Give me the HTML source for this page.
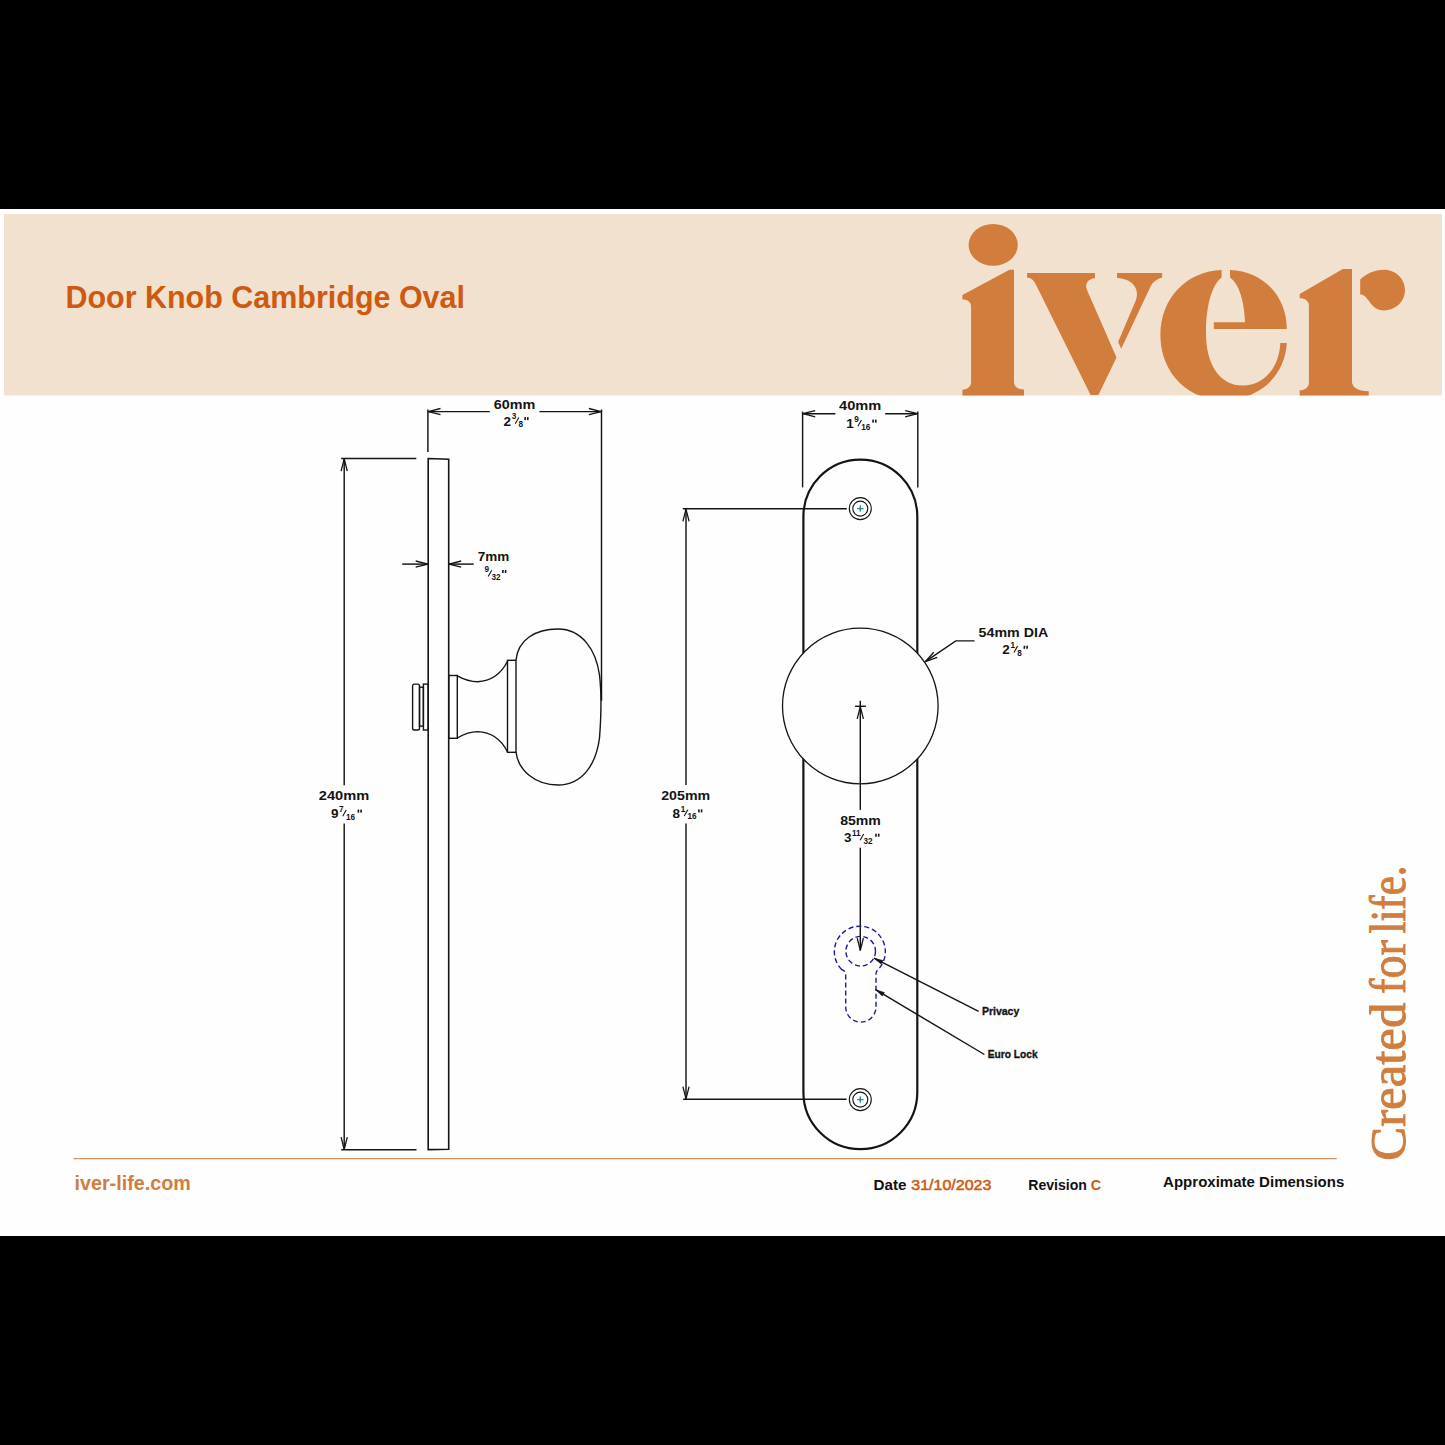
<!DOCTYPE html>
<html><head><meta charset="utf-8">
<style>
html,body{margin:0;padding:0;background:#000;}
body{width:1445px;height:1445px;position:relative;overflow:hidden;font-family:"Liberation Sans",sans-serif;}
#page{position:absolute;left:0;top:209px;width:1445px;height:1027px;background:#fefefe;}
svg{position:absolute;left:0;top:0;}
</style></head><body>
<div id="page"></div>
<svg width="1445" height="1445" viewBox="0 0 1445 1445">
<defs>
<clipPath id="bn"><rect x="4" y="214" width="1438" height="181.5"/></clipPath>
</defs>

<rect x="4" y="214" width="1438" height="181.5" fill="#f3e1cf"/>
<text x="65.40" y="307.60" font-family="Liberation Sans" font-weight="bold" font-size="30.5" fill="#ce5a12" textLength="399.60" lengthAdjust="spacingAndGlyphs" >Door Knob Cambridge Oval</text>
<g fill="#d07d3d" clip-path="url(#bn)">
<ellipse cx="993.2" cy="244.9" rx="24.6" ry="20.9"/>
<path d="M1009.5,269.8 L1014,269.8 L1014,382 C1014,387 1018,389.5 1024,389.5 L1024,400 L962.4,400 L962.4,389.7 C968,389.7 971.1,386 971.1,382 L971.1,307 C971.1,302 968,299.5 962.4,299.5 L962.4,295 Z"/>
<path d="M1027.1,273 L1095,273 L1095,278.2 C1088,278.5 1084.5,284 1087,290 L1116.5,357.6 L1098.4,395 L1090.6,395 L1035.6,283.9 C1033,279 1030,277.8 1027.1,277.5 Z"/>
<path d="M1117,273 L1162.2,273 L1162.2,277.6 C1157,279 1153,282 1150.8,286 L1121.2,348.8 L1118.1,342 L1136,300 C1139,292 1136,279 1117,278 Z"/>
<path d="M1221.6,270 C1187,271 1160.4,298 1160.4,335 C1160.4,372 1187,400 1223.6,400 C1258,400 1285,377 1286.8,343 L1280.3,343 C1279,370 1262,385.6 1243,385.6 C1220,385.6 1206,365 1206,333 C1206,305 1212,285 1221.6,277.6 Z"/>
<path d="M1230,270 C1262,271 1286.8,295 1286.8,329 L1213.8,329 L1213.8,322.3 L1245,322.3 C1244,300 1239,284 1230,277.6 Z"/>
<path d="M1342.8,268.9 L1352,268.9 L1352,382 C1352,387 1358,391.3 1368.7,391.3 L1368.7,400 L1299.7,400 L1299.7,390.3 C1305,390.3 1308.9,387 1308.9,383 L1308.9,305.5 C1308.9,301 1305,298.3 1299.7,298.3 L1299.7,293.9 Z"/>
<path d="M1360.2,279.4 C1366,274 1374,269.7 1384,269.7 C1396,269.7 1405,279 1405,290 C1405,302 1395,310.4 1384,310.4 C1377,310.4 1373,307 1369,301 C1366,297 1364,294.4 1360.2,294.4 Z"/>
</g>
<path d="M428.2,1149.6 L428.2,458.5 L448.7,459.3 L448.7,1149.2 Z" fill="none" stroke="#141414" stroke-width="1.6"/>
<line x1="427.90" y1="409.50" x2="427.90" y2="451.90" stroke="#141414" stroke-width="1.45" />
<line x1="601.50" y1="409.50" x2="601.50" y2="700.70" stroke="#141414" stroke-width="1.45" />
<line x1="427.90" y1="411.60" x2="489.80" y2="411.60" stroke="#141414" stroke-width="1.45" />
<line x1="539.40" y1="411.60" x2="601.50" y2="411.60" stroke="#141414" stroke-width="1.45" />
<path d="M440.50,408.50 L428.20,411.60 L440.50,414.70" fill="none" stroke="#141414" stroke-width="1.3" stroke-linejoin="miter"/>
<path d="M588.90,414.70 L601.20,411.60 L588.90,408.50" fill="none" stroke="#141414" stroke-width="1.3" stroke-linejoin="miter"/>
<text x="493.70" y="408.50" font-family="Liberation Sans" font-weight="bold" font-size="13.5" fill="#141414" textLength="41.50" lengthAdjust="spacingAndGlyphs" >60mm</text>
<text x="503.60" y="425.70" font-family="Liberation Sans" font-weight="bold" font-size="13.5" fill="#141414" >2</text>
<text x="511.71" y="419.40" font-family="Liberation Sans" font-weight="bold" font-size="8.2" fill="#141414" >3</text>
<line x1="515.27" y1="423.70" x2="518.87" y2="417.40" stroke="#141414" stroke-width="1.1"/>
<text x="518.57" y="427.00" font-family="Liberation Sans" font-weight="bold" font-size="8.2" fill="#141414" >8</text>
<path d="M525.20,417.10 L525.00,420.10 M527.90,417.10 L527.70,420.10" stroke="#141414" stroke-width="1.6" fill="none"/>
<line x1="341.20" y1="458.50" x2="416.30" y2="458.50" stroke="#141414" stroke-width="1.45" />
<line x1="341.30" y1="1149.80" x2="416.50" y2="1149.80" stroke="#141414" stroke-width="1.45" />
<line x1="344.20" y1="458.50" x2="344.20" y2="785.30" stroke="#141414" stroke-width="1.45" />
<line x1="344.20" y1="823.50" x2="344.20" y2="1149.80" stroke="#141414" stroke-width="1.45" />
<path d="M347.30,471.10 L344.20,458.80 L341.10,471.10" fill="none" stroke="#141414" stroke-width="1.3" stroke-linejoin="miter"/>
<path d="M341.10,1137.20 L344.20,1149.50 L347.30,1137.20" fill="none" stroke="#141414" stroke-width="1.3" stroke-linejoin="miter"/>
<text x="318.80" y="800.20" font-family="Liberation Sans" font-weight="bold" font-size="13.5" fill="#141414" textLength="50.40" lengthAdjust="spacingAndGlyphs" >240mm</text>
<text x="331.00" y="818.20" font-family="Liberation Sans" font-weight="bold" font-size="13.5" fill="#141414" >9</text>
<text x="339.11" y="811.90" font-family="Liberation Sans" font-weight="bold" font-size="8.2" fill="#141414" >7</text>
<line x1="342.67" y1="816.20" x2="346.27" y2="809.90" stroke="#141414" stroke-width="1.1"/>
<text x="345.97" y="819.50" font-family="Liberation Sans" font-weight="bold" font-size="8.2" fill="#141414" >16</text>
<path d="M358.50,809.60 L358.30,812.60 M361.20,809.60 L361.00,812.60" stroke="#141414" stroke-width="1.6" fill="none"/>
<line x1="402.20" y1="564.10" x2="428.00" y2="564.10" stroke="#141414" stroke-width="1.45" />
<line x1="448.90" y1="564.10" x2="473.70" y2="564.10" stroke="#141414" stroke-width="1.45" />
<path d="M415.70,567.20 L428.00,564.10 L415.70,561.00" fill="none" stroke="#141414" stroke-width="1.3" stroke-linejoin="miter"/>
<path d="M461.20,561.00 L448.90,564.10 L461.20,567.20" fill="none" stroke="#141414" stroke-width="1.3" stroke-linejoin="miter"/>
<text x="477.70" y="560.80" font-family="Liberation Sans" font-weight="bold" font-size="13.5" fill="#141414" textLength="31.50" lengthAdjust="spacingAndGlyphs" >7mm</text>
<text x="484.60" y="572.30" font-family="Liberation Sans" font-weight="bold" font-size="8.2" fill="#141414" >9</text>
<line x1="488.16" y1="576.60" x2="491.76" y2="570.30" stroke="#141414" stroke-width="1.1"/>
<text x="491.46" y="579.90" font-family="Liberation Sans" font-weight="bold" font-size="8.2" fill="#141414" >32</text>
<path d="M503.00,570.00 L502.80,573.00 M505.70,570.00 L505.50,573.00" stroke="#141414" stroke-width="1.6" fill="none"/>
<rect x="412.6" y="684.1" width="6.9" height="45.9" rx="1.8" fill="none" stroke="#141414" stroke-width="1.4"/>
<rect x="419.5" y="687.2" width="3.9" height="38.9" fill="none" stroke="#141414" stroke-width="1.4"/>
<rect x="423.4" y="684.1" width="4.8" height="45.9" fill="none" stroke="#141414" stroke-width="1.4"/>
<rect x="448.7" y="675.5" width="8.6" height="62.8" fill="none" stroke="#141414" stroke-width="1.4"/>
<path d="M457.3,675.8 C465,680 470,681.7 477.5,681.7 C492,681 502,672 507.4,661.5 M457.3,738 C465,733.5 470,731.6 477.5,731.6 C492,732 502,741 507.4,751.8" fill="none" stroke="#141414" stroke-width="1.4"/>
<rect x="507.5" y="660.3" width="8.5" height="92" fill="none" stroke="#141414" stroke-width="1.4"/>
<path d="M516,660 C518,640 535,629 558,629 C582,629 596,650 599.5,675 C601.5,692 601.5,712 599.5,738 C596,765 582,785 558,785 C535,785 518,770 516,752" fill="none" stroke="#141414" stroke-width="1.4"/>
<path d="M803.4,516.5 A56.95,56.95 0 0 1 917.3,516.5 L917.3,1092.2 A56.95,56.95 0 0 1 803.4,1092.2 Z" fill="none" stroke="#141414" stroke-width="2.2"/>
<circle cx="860.3" cy="508.6" r="11" fill="none" stroke="#141414" stroke-width="1.1"/>
<circle cx="860.3" cy="508.6" r="7.5" fill="none" stroke="#141414" stroke-width="1.1"/>
<path d="M857.2,508.6 L863.5,508.6 M860.3,505.6 L860.3,511.6" stroke="#1a8a8a" stroke-width="1.4"/>
<circle cx="860.3" cy="1099.6" r="11" fill="none" stroke="#141414" stroke-width="1.1"/>
<circle cx="860.3" cy="1099.6" r="7.5" fill="none" stroke="#141414" stroke-width="1.1"/>
<path d="M857.2,1099.6 L863.5,1099.6 M860.3,1096.6 L860.3,1102.6" stroke="#1a8a8a" stroke-width="1.4"/>
<line x1="802.60" y1="411.60" x2="802.60" y2="487.40" stroke="#141414" stroke-width="1.45" />
<line x1="917.80" y1="411.60" x2="917.80" y2="487.40" stroke="#141414" stroke-width="1.45" />
<line x1="802.60" y1="413.70" x2="835.40" y2="413.70" stroke="#141414" stroke-width="1.45" />
<line x1="885.20" y1="413.70" x2="917.80" y2="413.70" stroke="#141414" stroke-width="1.45" />
<path d="M815.20,410.60 L802.90,413.70 L815.20,416.80" fill="none" stroke="#141414" stroke-width="1.3" stroke-linejoin="miter"/>
<path d="M905.20,416.80 L917.50,413.70 L905.20,410.60" fill="none" stroke="#141414" stroke-width="1.3" stroke-linejoin="miter"/>
<text x="839.10" y="410.40" font-family="Liberation Sans" font-weight="bold" font-size="13.5" fill="#141414" textLength="42.20" lengthAdjust="spacingAndGlyphs" >40mm</text>
<text x="846.20" y="428.20" font-family="Liberation Sans" font-weight="bold" font-size="13.5" fill="#141414" >1</text>
<text x="854.31" y="421.90" font-family="Liberation Sans" font-weight="bold" font-size="8.2" fill="#141414" >9</text>
<line x1="857.87" y1="426.20" x2="861.47" y2="419.90" stroke="#141414" stroke-width="1.1"/>
<text x="861.17" y="429.50" font-family="Liberation Sans" font-weight="bold" font-size="8.2" fill="#141414" >16</text>
<path d="M873.20,419.60 L873.00,422.60 M875.90,419.60 L875.70,422.60" stroke="#141414" stroke-width="1.6" fill="none"/>
<line x1="682.80" y1="508.80" x2="846.80" y2="508.80" stroke="#141414" stroke-width="1.45" />
<line x1="683.10" y1="1099.20" x2="846.60" y2="1099.20" stroke="#141414" stroke-width="1.45" />
<line x1="686.00" y1="508.80" x2="686.00" y2="785.00" stroke="#141414" stroke-width="1.45" />
<line x1="686.00" y1="823.60" x2="686.00" y2="1099.20" stroke="#141414" stroke-width="1.45" />
<path d="M689.10,521.40 L686.00,509.10 L682.90,521.40" fill="none" stroke="#141414" stroke-width="1.3" stroke-linejoin="miter"/>
<path d="M682.90,1086.60 L686.00,1098.90 L689.10,1086.60" fill="none" stroke="#141414" stroke-width="1.3" stroke-linejoin="miter"/>
<text x="661.20" y="800.10" font-family="Liberation Sans" font-weight="bold" font-size="13.5" fill="#141414" textLength="49.00" lengthAdjust="spacingAndGlyphs" >205mm</text>
<text x="672.60" y="818.00" font-family="Liberation Sans" font-weight="bold" font-size="13.5" fill="#141414" >8</text>
<text x="680.71" y="811.70" font-family="Liberation Sans" font-weight="bold" font-size="8.2" fill="#141414" >1</text>
<line x1="684.27" y1="816.00" x2="687.87" y2="809.70" stroke="#141414" stroke-width="1.1"/>
<text x="687.57" y="819.30" font-family="Liberation Sans" font-weight="bold" font-size="8.2" fill="#141414" >16</text>
<path d="M699.00,809.40 L698.80,812.40 M701.70,809.40 L701.50,812.40" stroke="#141414" stroke-width="1.6" fill="none"/>
<circle cx="860.3" cy="706" r="77.8" fill="#fefefe" stroke="#141414" stroke-width="1.3"/>
<line x1="855.10" y1="706.30" x2="865.90" y2="706.30" stroke="#141414" stroke-width="1.45" />
<line x1="860.30" y1="700.70" x2="860.30" y2="706.30" stroke="#141414" stroke-width="1.45" />
<line x1="860.30" y1="706.30" x2="860.30" y2="809.90" stroke="#141414" stroke-width="1.45" />
<line x1="860.30" y1="847.70" x2="860.30" y2="950.70" stroke="#141414" stroke-width="1.45" />
<path d="M863.40,718.90 L860.30,706.60 L857.20,718.90" fill="none" stroke="#141414" stroke-width="1.3" stroke-linejoin="miter"/>
<path d="M857.20,938.10 L860.30,950.40 L863.40,938.10" fill="none" stroke="#141414" stroke-width="1.3" stroke-linejoin="miter"/>
<text x="840.20" y="824.90" font-family="Liberation Sans" font-weight="bold" font-size="13.5" fill="#141414" textLength="40.70" lengthAdjust="spacingAndGlyphs" >85mm</text>
<text x="843.90" y="842.30" font-family="Liberation Sans" font-weight="bold" font-size="13.5" fill="#141414" >3</text>
<text x="852.01" y="836.00" font-family="Liberation Sans" font-weight="bold" font-size="8.2" fill="#141414" >11</text>
<line x1="860.12" y1="840.30" x2="863.72" y2="834.00" stroke="#141414" stroke-width="1.1"/>
<text x="863.42" y="843.60" font-family="Liberation Sans" font-weight="bold" font-size="8.2" fill="#141414" >32</text>
<path d="M876.10,833.70 L875.90,836.70 M878.80,833.70 L878.60,836.70" stroke="#141414" stroke-width="1.6" fill="none"/>
<path d="M925.3,661.7 L955.8,640.9 L974.5,640.9" fill="none" stroke="#141414" stroke-width="1.4"/>
<path d="M933.72,652.21 L925.30,661.70 L937.21,657.33" fill="none" stroke="#141414" stroke-width="1.3" stroke-linejoin="miter"/>
<text x="978.60" y="637.00" font-family="Liberation Sans" font-weight="bold" font-size="13.5" fill="#141414" textLength="69.60" lengthAdjust="spacingAndGlyphs" >54mm DIA</text>
<text x="1002.30" y="654.40" font-family="Liberation Sans" font-weight="bold" font-size="13.5" fill="#141414" >2</text>
<text x="1010.41" y="648.10" font-family="Liberation Sans" font-weight="bold" font-size="8.2" fill="#141414" >1</text>
<line x1="1013.97" y1="652.40" x2="1017.57" y2="646.10" stroke="#141414" stroke-width="1.1"/>
<text x="1017.27" y="655.70" font-family="Liberation Sans" font-weight="bold" font-size="8.2" fill="#141414" >8</text>
<path d="M1024.50,645.80 L1024.30,648.80 M1027.20,645.80 L1027.00,648.80" stroke="#141414" stroke-width="1.6" fill="none"/>
<path d="M841.6,969.5 A25.5,25.5 0 1 1 878.1,969.5 C876.5,971 876,972 876,974 L876,1007 A15.1,15.1 0 0 1 845.7,1007 L845.7,974 C845.7,972 845,971 841.6,969.5" fill="none" stroke="#1b1b9a" stroke-width="1.4" stroke-dasharray="5,3"/>
<circle cx="860.7" cy="951.2" r="14.8" fill="none" stroke="#1b1b9a" stroke-width="1.4" stroke-dasharray="5,3"/>
<line x1="874.00" y1="958.20" x2="978.60" y2="1011.30" stroke="#141414" stroke-width="1.45" />
<path d="M882.93,960.49 L874.00,958.20 L881.12,964.06 Z" fill="#141414" stroke="#141414" stroke-width="0.6"/>
<line x1="875.60" y1="989.70" x2="984.40" y2="1054.50" stroke="#141414" stroke-width="1.45" />
<path d="M884.36,992.59 L875.60,989.70 L882.31,996.02 Z" fill="#141414" stroke="#141414" stroke-width="0.6"/>
<text x="981.90" y="1015.00" font-family="Liberation Sans" font-weight="bold" font-size="11" fill="#141414" textLength="37.40" lengthAdjust="spacingAndGlyphs" stroke="#141414" stroke-width="0.35">Privacy</text>
<text x="987.70" y="1058.30" font-family="Liberation Sans" font-weight="bold" font-size="11" fill="#141414" textLength="49.90" lengthAdjust="spacingAndGlyphs" stroke="#141414" stroke-width="0.35">Euro Lock</text>
<line x1="73.60" y1="1158.70" x2="1336.80" y2="1158.70" stroke="#d8915c" stroke-width="1.3" />
<text x="74.50" y="1189.60" font-family="Liberation Sans" font-weight="bold" font-size="20.5" fill="#d07d3d" textLength="116.30" lengthAdjust="spacingAndGlyphs" >iver-life.com</text>
<text x="873.50" y="1189.70" font-family="Liberation Sans" font-weight="bold" font-size="15.5" fill="#111" textLength="33.00" lengthAdjust="spacingAndGlyphs" >Date</text>
<text x="911.30" y="1189.70" font-family="Liberation Sans" font-weight="normal" font-size="15.5" fill="#ce5a12" textLength="80.00" lengthAdjust="spacingAndGlyphs" stroke="#ce5a12" stroke-width="0.55">31/10/2023</text>
<text x="1028.20" y="1189.70" font-family="Liberation Sans" font-weight="bold" font-size="15.5" fill="#111" textLength="58.80" lengthAdjust="spacingAndGlyphs" >Revision</text>
<text x="1090.70" y="1189.70" font-family="Liberation Sans" font-weight="bold" font-size="15.5" fill="#ce5a12" textLength="10.40" lengthAdjust="spacingAndGlyphs" >C</text>
<text x="1163.10" y="1186.70" font-family="Liberation Sans" font-weight="bold" font-size="15" fill="#111" textLength="181.20" lengthAdjust="spacingAndGlyphs" >Approximate Dimensions</text>
<text x="0" y="0" font-family="Liberation Serif" font-size="50" fill="#d07d3d" stroke="#d07d3d" stroke-width="0.9" textLength="158" lengthAdjust="spacingAndGlyphs" transform="translate(1404.5,1160.7) rotate(-90)">Created</text>
<text x="0" y="0" font-family="Liberation Serif" font-size="50" fill="#d07d3d" stroke="#d07d3d" stroke-width="0.9" textLength="54" lengthAdjust="spacingAndGlyphs" transform="translate(1404.5,994) rotate(-90)">for</text>
<text x="0" y="0" font-family="Liberation Serif" font-size="50" fill="#d07d3d" stroke="#d07d3d" stroke-width="0.9" textLength="68" lengthAdjust="spacingAndGlyphs" transform="translate(1404.5,933.5) rotate(-90)">life.</text>
</svg>
</body></html>
